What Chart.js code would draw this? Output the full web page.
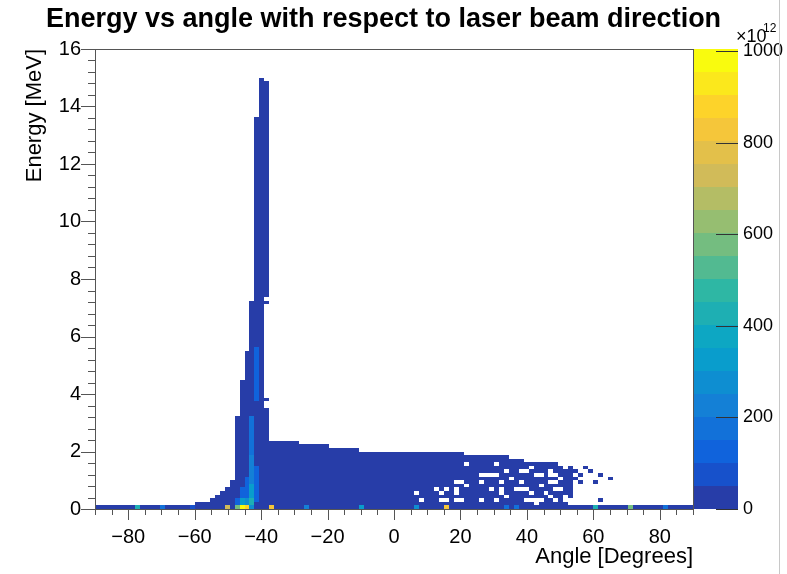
<!DOCTYPE html>
<html>
<head>
<meta charset="utf-8">
<script src="https://cdn.jsdelivr.net/npm/chart.js@4.4.1/dist/chart.umd.min.js"></script>
<style>
  html, body { margin: 0; padding: 0; background: #fff; }
  canvas { display: block; }
</style>
</head>
<body>
<canvas id="chart-energy-angle" width="787" height="574"></canvas>
<script>
// histogram binning
const angleMin = -90, angleMax = 90, angleStep = 1.5;
const energyMin = 0, energyMax = 16, energyStep = 0.125;
const zMax = 1005;   // top of colour scale, in units of 10^12

const xTickLabels = [-80, -60, -40, -20, 0, 20, 40, 60, 80];
const yTickLabels = [0, 2, 4, 6, 8, 10, 12, 14, 16];
const zTickLabels = [0, 200, 400, 600, 800, 1000];

// top edge (MeV) of the filled region in every 1.5 deg angle bin, starting at -90
const columnTop = [
  0.125, 0.125, 0.125, 0.125, 0.125, 0.125, 0.125, 0.125, 0.125, 0.125,
  0.125, 0.125, 0.125, 0.125, 0.125, 0.125, 0.125, 0.125, 0.125, 0.125,
  0.25, 0.25, 0.25, 0.375, 0.5, 0.625, 0.75, 1.0, 3.25, 4.5,
  5.5, 7.25, 13.625, 15.0, 14.875, 2.375, 2.375, 2.375, 2.375, 2.375,
  2.375, 2.25, 2.25, 2.25, 2.25, 2.25, 2.25, 2.125, 2.125, 2.125,
  2.125, 2.125, 2.125, 2.0, 2.0, 2.0, 2.0, 2.0, 2.0, 2.0,
  2.0, 2.0, 2.0, 2.0, 2.0, 2.0, 2.0, 2.0, 2.0, 2.0,
  2.0, 2.0, 2.0, 2.0, 1.875, 1.875, 1.875, 1.875, 1.875, 1.875,
  1.875, 1.875, 1.875, 1.75, 1.75, 1.75, 1.625, 1.625, 1.625, 1.625,
  1.625, 1.625, 1.625, 1.5, 1.5, 1.5, 0.125, 0.125, 0.125, 0.125,
  0.125, 0.125, 0.125, 0.125, 0.125, 0.125, 0.125, 0.125, 0.125, 0.125,
  0.125, 0.125, 0.125, 0.125, 0.125, 0.125, 0.125, 0.125, 0.125, 0.125
];

// empty cells inside the filled region: [angle bin start, energy from, energy to]
const holes = [
  // gaps on the right side of the spike
  [-39, 3.5, 3.75], [-39, 3.875, 7.125], [-39, 7.25, 7.375],
  // sparse tail at positive angles
  [21, 1.5, 1.625], [30, 1.5, 1.625],
  [40.5, 1.375, 1.5], [51, 1.375, 1.5],
  [33, 1.25, 1.375], [37.5, 1.25, 1.375], [39, 1.25, 1.375], [46.5, 1.25, 1.375],
  [25.5, 1.125, 1.25], [27, 1.125, 1.25], [28.5, 1.125, 1.25], [30, 1.125, 1.25],
  [42, 1.125, 1.25], [43.5, 1.125, 1.25], [46.5, 1.125, 1.25], [48, 1.125, 1.25],
  [34.5, 1.0, 1.125], [49.5, 1.0, 1.125],
  [18, 0.875, 1.0], [19.5, 0.875, 1.0], [25.5, 0.875, 1.0], [31.5, 0.875, 1.0],
  [37.5, 0.875, 1.0], [46.5, 0.875, 1.0], [48, 0.875, 1.0],
  [21, 0.75, 0.875], [43.5, 0.75, 0.875],
  [12, 0.625, 0.75], [15, 0.625, 0.75], [18, 0.625, 0.75], [28.5, 0.625, 0.75],
  [31.5, 0.625, 0.75], [36, 0.625, 0.75], [37.5, 0.625, 0.75], [39, 0.625, 0.75],
  [48, 0.625, 0.75], [49.5, 0.625, 0.75],
  [6, 0.5, 0.625], [13.5, 0.5, 0.625], [18, 0.5, 0.625], [31.5, 0.5, 0.625],
  [40.5, 0.5, 0.625], [45, 0.5, 0.625],
  [33, 0.375, 0.5], [46.5, 0.375, 0.5], [51, 0.375, 0.5],
  [7.5, 0.25, 0.375], [13.5, 0.25, 0.375], [15, 0.25, 0.375], [18, 0.25, 0.375],
  [19.5, 0.25, 0.375], [25.5, 0.25, 0.375], [30, 0.25, 0.375], [39, 0.25, 0.375],
  [40.5, 0.25, 0.375], [42, 0.25, 0.375], [43.5, 0.25, 0.375], [48, 0.25, 0.375],
  [51, 0.25, 0.375], [52.5, 0.25, 0.375],
  [42, 0.125, 0.25], [52.5, 0.125, 0.25]
];

// isolated filled cells outside the region: [angle bin start, energy]
const strayCells = [
  [54, 1.25], [55.5, 1.125], [54, 1.0], [55.5, 0.875], [57, 1.375],
  [60, 0.875], [61.5, 1.125], [64.5, 1.0], [61.5, 0.25], [58.5, 1.25]
];

// brighter cells: [angle bin start, energy from, energy to, value x10^12]
const hotCells = [
  [-78, 0, 0.125, 430], [-70.5, 0, 0.125, 180], [-61.5, 0, 0.125, 80],
  [-51, 0, 0.125, 720], [-48, 0, 0.125, 560], [-46.5, 0, 0.125, 1000],
  [-45, 0, 0.125, 880], [-43.5, 0, 0.125, 300], [-37.5, 0, 0.125, 830],
  [-27, 0, 0.125, 250], [-10.5, 0, 0.125, 330], [6, 0, 0.125, 280],
  [15, 0, 0.125, 850], [33, 0, 0.125, 180], [36, 0, 0.125, 200],
  [60, 0, 0.125, 420], [70.5, 0, 0.125, 560], [81, 0, 0.125, 180],
  [-48, 0.125, 0.375, 120], [-46.5, 0.125, 0.375, 350], [-46.5, 0.375, 0.75, 150],
  [-45, 0.125, 0.375, 300], [-45, 0.375, 1.125, 150],
  [-43.5, 0.125, 0.375, 420], [-43.5, 0.375, 0.875, 330], [-43.5, 0.875, 1.875, 230],
  [-43.5, 1.875, 3.25, 160], [-42, 0.25, 1.5, 120], [-42, 3.75, 5.625, 110]
];

const baseValue = 15;   // every other filled cell sits in the lowest colour band

// ROOT kBird palette stops
const birdStops = [0, 0.125, 0.25, 0.375, 0.5, 0.625, 0.75, 0.875, 1];
const birdR = [0.2082, 0.0592, 0.0780, 0.0232, 0.1802, 0.5301, 0.8186, 0.9956, 0.9764];
const birdG = [0.1664, 0.3599, 0.5041, 0.6419, 0.7178, 0.7492, 0.7328, 0.7862, 0.9832];
const birdB = [0.5293, 0.8684, 0.8385, 0.7914, 0.6425, 0.4662, 0.3499, 0.1968, 0.0539];
const nLevels = 20;

function birdColor(t) {
    let i = 0;
    while (i < birdStops.length - 2 && t > birdStops[i + 1]) i++;
    const f = (t - birdStops[i]) / (birdStops[i + 1] - birdStops[i]);
    const c = arr => Math.round(255 * (arr[i] + (arr[i + 1] - arr[i]) * f));
    return 'rgb(' + c(birdR) + ',' + c(birdG) + ',' + c(birdB) + ')';
}

function levelColor(level) {
    const idx = Math.floor((level + 0.99) * 255 / nLevels);
    return birdColor(Math.min(idx, 254) / 254);
}

function valueColor(v) {
    return levelColor(Math.min(nLevels - 1, Math.floor(v / zMax * nLevels)));
}

// build the cell table from the arrays above
const cellValues = new Map();
const key = (a, e) => Math.round((a - angleMin) / angleStep) + ':' + Math.round(e / energyStep);
columnTop.forEach(function(top, i) {
    const a = angleMin + i * angleStep;
    for (let e = energyMin; e < top - 1e-9; e += energyStep) cellValues.set(key(a, e), baseValue);
});
holes.forEach(function(h) {
    for (let e = h[1]; e < h[2] - 1e-9; e += energyStep) cellValues.delete(key(h[0], e));
});
strayCells.forEach(function(s) { cellValues.set(key(s[0], s[1]), baseValue); });
hotCells.forEach(function(h) {
    for (let e = h[1]; e < h[2] - 1e-9; e += energyStep) {
        if (cellValues.has(key(h[0], e))) cellValues.set(key(h[0], e), h[3]);
    }
});

const fontFamily = '"Liberation Sans", Arial, Helvetica, sans-serif';
const axisColor = '#555';

function minusLabel(v) {
    return v < 0 ? '\u2212' + Math.abs(v) : String(v);
}

// draws histogram cells, frame, ROOT-style ticks and the colour bar
const histPlugin = {
    id: 'hist2d',
    beforeDatasetsDraw(chart) {
        const ctx = chart.ctx, x = chart.scales.x, y = chart.scales.y;
        ctx.save();
        cellValues.forEach(function(v, k) {
            const parts = k.split(':');
            const a = angleMin + (+parts[0]) * angleStep;
            const e = (+parts[1]) * energyStep;
            const x0 = Math.round(x.getPixelForValue(a));
            const x1 = Math.round(x.getPixelForValue(a + angleStep));
            const y0 = Math.round(y.getPixelForValue(e));
            const y1 = Math.round(y.getPixelForValue(e + energyStep));
            ctx.fillStyle = valueColor(v);
            ctx.fillRect(x0, y1, x1 - x0, y0 - y1);
        });
        ctx.restore();
    },
    afterDraw(chart) {
        const ctx = chart.ctx, area = chart.chartArea;
        const x = chart.scales.x, y = chart.scales.y, z = chart.scales.z;
        ctx.save();

        // colour bar
        const barLeft = area.right, barRight = area.right + 45;
        for (let i = 0; i < nLevels; i++) {
            const yb = Math.round(z.getPixelForValue(zMax * i / nLevels));
            const yt = Math.round(z.getPixelForValue(zMax * (i + 1) / nLevels));
            ctx.fillStyle = levelColor(i);
            ctx.fillRect(barLeft, yt, barRight - barLeft, yb - yt);
        }
        ctx.strokeStyle = '#333';
        ctx.lineWidth = 1;
        zTickLabels.forEach(function(v) {
            const py = Math.round(z.getPixelForValue(v)) + 0.5;
            ctx.beginPath();
            ctx.moveTo(barRight - 22, py);
            ctx.lineTo(barRight, py);
            ctx.stroke();
        });

        // frame
        ctx.strokeStyle = axisColor;
        ctx.strokeRect(Math.round(area.left) + 0.5, Math.round(area.top) + 0.5,
            Math.round(area.right - area.left), Math.round(area.bottom - area.top));

        // x ticks, pointing out of the frame
        ctx.beginPath();
        for (let a = -90; a <= 90; a += 5) {
            const px = Math.round(x.getPixelForValue(a)) + 0.5;
            const len = a % 20 === 0 ? 11 : 6;
            ctx.moveTo(px, area.bottom);
            ctx.lineTo(px, area.bottom + len);
        }
        // y ticks
        for (let e = 0; e <= 16.001; e += 0.4) {
            const py = Math.round(y.getPixelForValue(e)) + 0.5;
            const major = Math.abs(e / 2 - Math.round(e / 2)) < 1e-6;
            ctx.moveTo(area.left, py);
            ctx.lineTo(area.left - (major ? 14 : 7), py);
        }
        ctx.stroke();

        // exponent of the colour scale
        ctx.fillStyle = '#000';
        ctx.textBaseline = 'alphabetic';
        ctx.textAlign = 'left';
        ctx.font = '18px ' + fontFamily;
        ctx.fillText('\u00d710', 736, 42);
        ctx.font = '12px ' + fontFamily;
        ctx.fillText('12', 763, 32);

        // canvas edge line on the right
        ctx.strokeStyle = '#c8c8c8';
        ctx.beginPath();
        ctx.moveTo(779.5, 0);
        ctx.lineTo(779.5, 574);
        ctx.stroke();
        ctx.restore();
    }
};

function fixedTicks(values) {
    return function(axis) {
        axis.ticks = values.map(v => ({ value: v }));
    };
}

const ctx = document.getElementById('chart-energy-angle').getContext('2d');
new Chart(ctx, {
    type: 'scatter',
    data: { datasets: [{ data: [], pointRadius: 0 }] },
    options: {
        responsive: false,
        animation: false,
        // negative left padding keeps the title centred where ROOT put it
        layout: { padding: { left: -20, right: 0, top: 0, bottom: 0 } },
        plugins: {
            legend: { display: false },
            tooltip: { enabled: false },
            title: {
                display: true,
                text: 'Energy vs angle with respect to laser beam direction',
                color: '#000',
                font: { family: fontFamily, size: 27, weight: 'bold', lineHeight: 1 },
                padding: { top: 6, bottom: 16 }
            }
        },
        scales: {
            x: {
                type: 'linear', position: 'bottom', min: angleMin, max: angleMax,
                afterBuildTicks: fixedTicks(xTickLabels),
                afterFit: function(s) { s.height = 65; },
                // tick marks are drawn by the plugin, the hidden tick length only spaces the labels
                grid: { display: false, drawTicks: true, tickLength: 14 },
                border: { display: false },
                ticks: {
                    color: '#000', padding: 2, maxRotation: 0, autoSkip: false,
                    font: { family: fontFamily, size: 20 },
                    callback: minusLabel
                },
                title: {
                    display: true, text: 'Angle [Degrees]', align: 'end', color: '#000',
                    font: { family: fontFamily, size: 22, lineHeight: 1.2 },
                    padding: { top: 0, bottom: 4 }
                }
            },
            y: {
                type: 'linear', position: 'left', min: energyMin, max: energyMax,
                afterBuildTicks: fixedTicks(yTickLabels),
                afterFit: function(s) { s.width = 115; },
                grid: { display: false, drawTicks: true, tickLength: 12 },
                border: { display: false },
                ticks: {
                    color: '#000', padding: 2, autoSkip: false,
                    font: { family: fontFamily, size: 20 }
                },
                title: {
                    display: true, text: 'Energy [MeV]', align: 'end', color: '#000',
                    font: { family: fontFamily, size: 22, lineHeight: 1.2 },
                    padding: { top: 42, bottom: 0 }
                }
            },
            z: {
                type: 'linear', position: 'right', min: 0, max: zMax,
                afterBuildTicks: fixedTicks(zTickLabels),
                afterFit: function(s) { s.width = 94; },
                grid: { display: false, drawTicks: true, tickLength: 48 },
                border: { display: false },
                ticks: {
                    color: '#000', padding: 2, autoSkip: false,
                    font: { family: fontFamily, size: 18 },
                    callback: v => String(v)
                }
            }
        }
    },
    plugins: [histPlugin]
});
</script>
</body>
</html>
